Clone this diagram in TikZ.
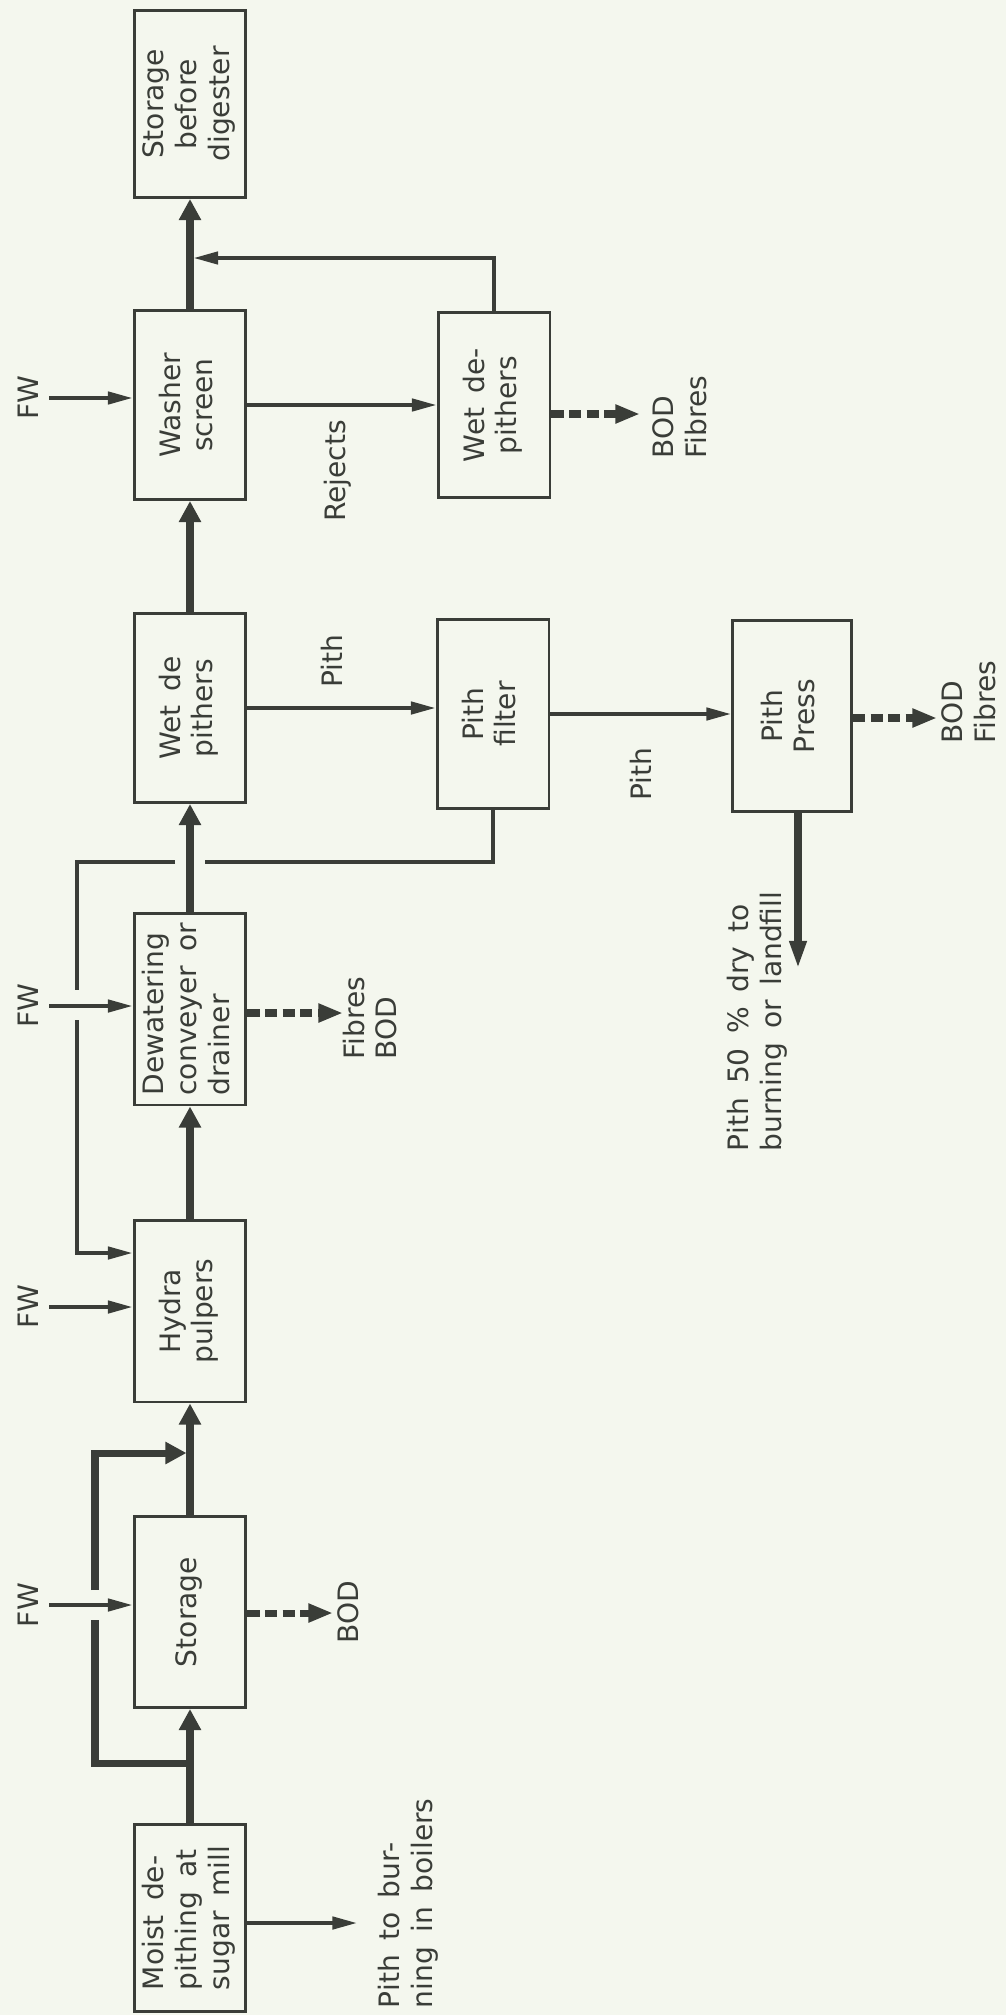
\documentclass[tikz,border=0pt]{standalone}
\usepackage{fontspec}
\setmainfont[WordSpace=1.6]{DejaVu Sans}
\usepackage{graphicx}
\usetikzlibrary{arrows.meta}
\definecolor{ink}{HTML}{3A3D38}
\definecolor{paper}{HTML}{F4F7EE}
\newcommand{\rottab}[2][c]{\rotatebox{90}{\begin{tabular}{@{}#1@{}}#2\end{tabular}}}
\begin{document}
\begin{tikzpicture}[x=0.02cm, y=-0.02cm,
  font=\fontsize{16}{18.5}\selectfont,
  box/.style={draw=ink, line width=1.7pt, inner sep=0pt, minimum width=2.24cm, minimum height=3.78cm, text=ink},
  lbl/.style={rotate=90, inner sep=2pt, text=ink, align=left},
  thk/.style={draw=ink, line width=4pt},
  thkar/.style={thk, -{Triangle[length=12pt,width=12pt]}},
  thnline/.style={draw=ink, line width=2.1pt},
  thn/.style={thnline, -{Triangle[length=14pt,width=7pt]}},
  dsh/.style={draw=ink, line width=4pt, dash pattern=on 7pt off 3pt, -{Triangle[length=14pt,width=10pt]}},
]
\fill[paper] (0,0) rectangle (1006,2015);
\useasboundingbox (0,0) rectangle (1006,2015);

% boxes
\node[box, minimum height=3.74cm] (sbd) at (190,104) {\rottab{Storage\\before\\digester}};
\node[box] (washer) at (190,405) {\rottab{Washer\\screen}};
\node[box] (wet1) at (190,708) {\rottab{Wet de\\pithers}};
\node[box, minimum height=3.84cm] (dewater) at (190,1009) {\rottab[l]{Dewatering\\conveyer or\\drainer}};
\node[box, minimum height=3.64cm] (hydra) at (190,1311) {\rottab{Hydra\\pulpers}};
\node[box, minimum height=3.82cm] (storage) at (190,1612) {\rottab{Storage}};
\node[box, minimum height=3.74cm] (moist) at (190,1918) {\rottab[l]{Moist de-\\pithing at\\sugar mill}};
\node[box, minimum height=3.70cm] (wet2) at (494,405) {\rottab{Wet de-\\pithers}};
\node[box, minimum height=3.80cm] (pfilter) at (493,714) {\rottab{Pith\\filter}};
\node[box, minimum width=2.38cm, minimum height=3.84cm] (ppress) at (792,716) {\rottab{Pith\\Press}};

% labels
\node[lbl] (fw1) at (28,398) {FW};
\node[lbl] (fw2) at (28,1006) {FW};
\node[lbl] (fw3) at (28,1307) {FW};
\node[lbl] (fw4) at (28,1605) {FW};
\node[lbl] (rej) at (338,471) {Rejects};
\node[lbl] (pith1) at (332,661) {Pith};
\node[lbl] (pith2) at (641,774) {Pith};
\node[lbl] (bod1) at (348,1612) {BOD};
\node[lbl, anchor=west] (fb1) at (370,1063) {Fibres\\BOD};
\node[lbl, anchor=west] (bf2) at (680,462) {BOD\\Fibres};
\node[lbl, anchor=west] (bf3) at (969,747) {BOD\\Fibres};
\node[lbl, anchor=west] (burn1) at (408,2012) {Pith to bur-\\ning in boilers};
\node[lbl, anchor=west] (burn2) at (757,1155) {Pith 50 \% dry to\\burning or landfill};

% main spine
\draw[thkar] (moist) -- (storage);
\draw[thkar] (storage) -- (hydra);
\draw[thkar] (hydra) -- (dewater);
\draw[thkar] (dewater) -- (wet1);
\draw[thkar] (wet1) -- (washer);
\draw[thkar] (washer) -- (sbd);

% bypass around storage
\coordinate (b1) at (190,1763);
\coordinate (g1) at (95,1620);
\coordinate (g2) at (95,1590);
\coordinate (j1) at (190,1453);
\draw[thk] (b1) -| (g1);
\draw[thkar, shorten >=2pt] (g2) |- (j1);

% return from pith filter to hydra pulpers
\coordinate (r1) at (205,862);
\coordinate (r2) at (175,862);
\coordinate (r3) at (77,990);
\coordinate (r4) at (77,1020);
\coordinate (hin) at (hydra.west |- 0,1253);
\draw[thnline] (pfilter.south) |- (r1);
\draw[thnline] (r2) -| (r3);
\draw[thn] (r4) |- (hin);

% return from wet de-pithers to spine
\coordinate (rj) at (190,258);
\draw[thn, shorten >=2pt] (wet2.north) |- (rj);

% side flows
\draw[thn] (washer.east) -- (wet2.west);
\draw[thn] (wet1.east) -- (wet1.east -| pfilter.west);
\draw[thn] (pfilter.east) -- (pfilter.east -| ppress.west);
\coordinate (pe) at (798,969);
\draw[thk, -{Triangle[length=16pt,width=9pt]}] (ppress.south -| pe) -- (pe);
\coordinate (pb) at (357,1923);
\draw[thn] (moist.east |- pb) -- (pb);

% dashed effluents
\coordinate (dA) at (333,1613);
\draw[dsh] (storage.east |- dA) -- (dA);
\coordinate (dB) at (343,1013);
\draw[dsh] (dewater.east |- dB) -- (dB);
\coordinate (dC) at (640,414);
\draw[dsh] (wet2.east |- dC) -- (dC);
\coordinate (dD) at (937,718);
\draw[dsh] (ppress.east |- dD) -- (dD);

% fresh water inputs
\draw[thn, shorten <=4pt] (fw1.south) -- (fw1.south -| washer.west);
\draw[thn, shorten <=4pt] (fw2.south) -- (fw2.south -| dewater.west);
\draw[thn, shorten <=4pt] (fw3.south) -- (fw3.south -| hydra.west);
\draw[thn, shorten <=4pt] (fw4.south) -- (fw4.south -| storage.west);
\end{tikzpicture}
\end{document}
